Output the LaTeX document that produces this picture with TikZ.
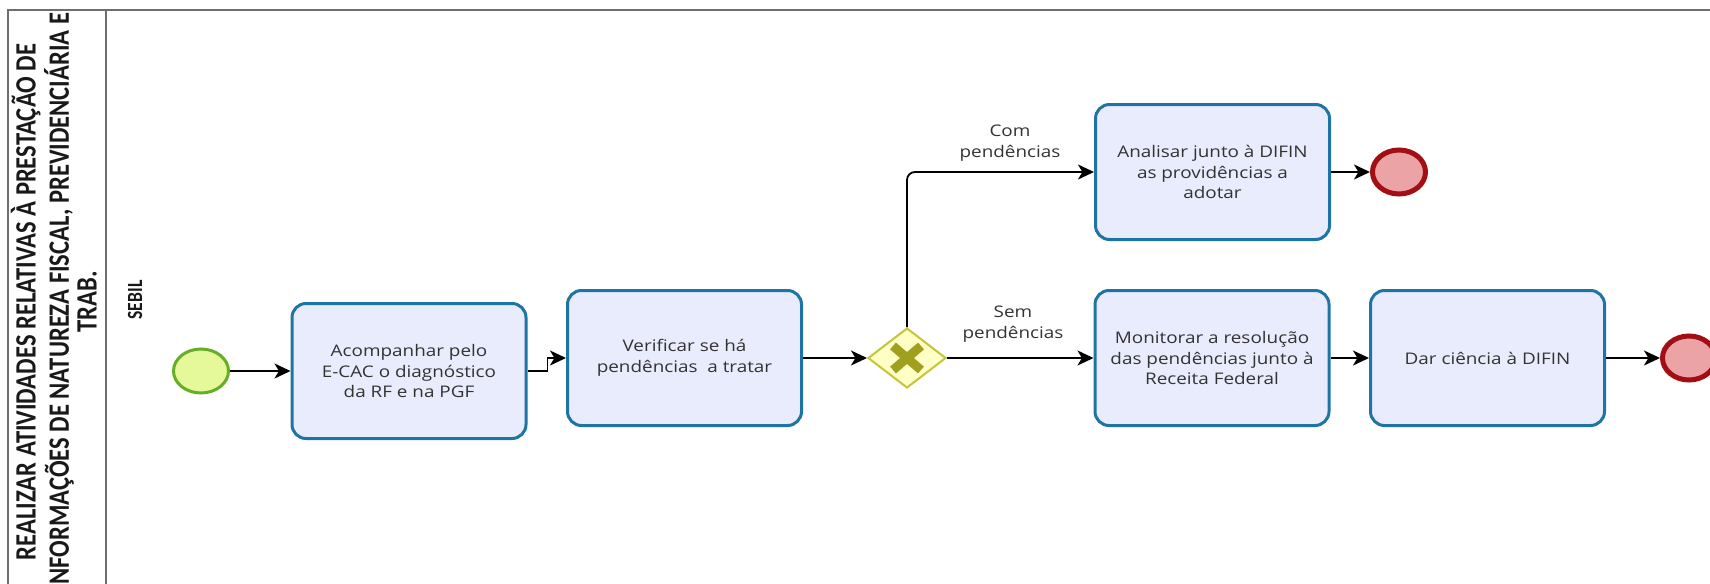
\documentclass[tikz,border=0pt]{standalone}
\usepackage{fontspec}
\usetikzlibrary{shapes.geometric,arrows.meta}
\newfontfamily\bodyfont[FakeStretch=1.18]{Open Sans}
\newfontfamily\titlefont{Carlito}
\definecolor{lanegray}{HTML}{6E6E6E}
\definecolor{taskfill}{HTML}{E9ECFC}
\definecolor{taskdraw}{HTML}{1F74A6}
\definecolor{startfill}{HTML}{E5F99A}
\definecolor{startdraw}{HTML}{66AE25}
\definecolor{endfill}{HTML}{EBA3A5}
\definecolor{enddraw}{HTML}{A20E14}
\definecolor{gwfill}{HTML}{FFFFC6}
\definecolor{gwdraw}{HTML}{C5C43A}
\definecolor{gwmark}{HTML}{A09F1E}
\definecolor{txt}{HTML}{333333}
\begin{document}
\begin{tikzpicture}[x=0.5pt,y=-0.5pt,
  task/.style={rectangle, rounded corners=7pt, draw=taskdraw, fill=taskfill, line width=1.5pt, minimum width=117pt, minimum height=67.5pt, align=center, font=\bodyfont\fontsize{8pt}{10.4pt}\selectfont, text=txt, inner sep=2pt},
  startev/.style={ellipse, draw=startdraw, fill=startfill, line width=1.5pt, minimum width=27.5pt, minimum height=22pt, inner sep=0pt},
  endev/.style={ellipse, draw=enddraw, fill=endfill, line width=2.5pt, minimum width=26.5pt, minimum height=22pt, inner sep=0pt},
  gateway/.style={diamond, draw=gwdraw, fill=gwfill, line width=1pt, minimum width=39pt, minimum height=30pt, inner sep=0pt},
  flow/.style={-{Stealth[length=8pt,width=7.5pt,inset=2.2pt]}, line width=0.9pt, black},
  flowlabel/.style={font=\bodyfont\fontsize{8pt}{10.4pt}\selectfont, text=txt, align=center},
  lane/.style={draw=lanegray, line width=1pt},
  rottext/.style={rotate=90, inner sep=0pt, text=black!90}
]
\useasboundingbox (0,0) rectangle (1710,584);
\clip (0,0) rectangle (1710,584);
% pool frame
\draw[lane] (8,600) -- (8,10) -- (1720,10);
\draw[lane] (106,10) -- (106,600);
\node[rottext] (pooltitle) at (58,302) {\scalebox{1}[1.2]{\titlefont\bfseries\fontsize{12.3pt}{11.6pt}\selectfont\begin{tabular}{@{}c@{}}REALIZAR ATIVIDADES RELATIVAS À PRESTAÇÃO DE\\INFORMAÇÕES DE NATUREZA FISCAL, PREVIDENCIÁRIA E\\TRAB.\end{tabular}}};
\node[rottext] (lanelabel) at (135,300) {\scalebox{1}[1.23]{\titlefont\bfseries\fontsize{8.8pt}{10pt}\selectfont SEBIL}};
% events and tasks
\node[startev] (start) at (201,371) {};
\node[task] (t1) at (409,371) {Acompanhar pelo\\E-CAC o diagnóstico\\da RF e na PGF};
\node[task] (t2) at (684.5,358) {Verificar se há\\pendências\ \ a tratar};
\node[gateway] (gw) at (907,358) {};
\draw[gwmark, line width=4.5pt] ([shift={(-14,-12)}]gw.center) -- ([shift={(14,12)}]gw.center);
\draw[gwmark, line width=4.5pt] ([shift={(-14,12)}]gw.center) -- ([shift={(14,-12)}]gw.center);
\node[task] (t3) at (1212.5,172) {Analisar junto à DIFIN\\as providências a\\adotar};
\node[endev] (e1) at (1399,172) {};
\node[task] (t4) at (1212,358) {Monitorar a resolução\\das pendências junto à\\Receita Federal};
\node[task] (t5) at (1487.5,358) {Dar ciência à DIFIN};
\node[endev] (e2) at (1689,358) {};
% flows
\draw[flow] (start) -- (t1);
\draw[flow] (t1.east) -- ++(10pt,0) |- (t2.west);
\draw[flow] (t2) -- (gw);
\draw[flow, rounded corners=4pt] (gw.north) |- (t3.west);
\draw[flow] (gw.east) -- (t4.west);
\draw[flow] (t3) -- (e1);
\draw[flow] (t4) -- (t5);
\draw[flow] (t5) -- (e2);
\node[flowlabel] (lcom) at (1010,143) {Com\\pendências};
\node[flowlabel] (lsem) at (1013,324) {Sem\\pendências};
\end{tikzpicture}
\end{document}
